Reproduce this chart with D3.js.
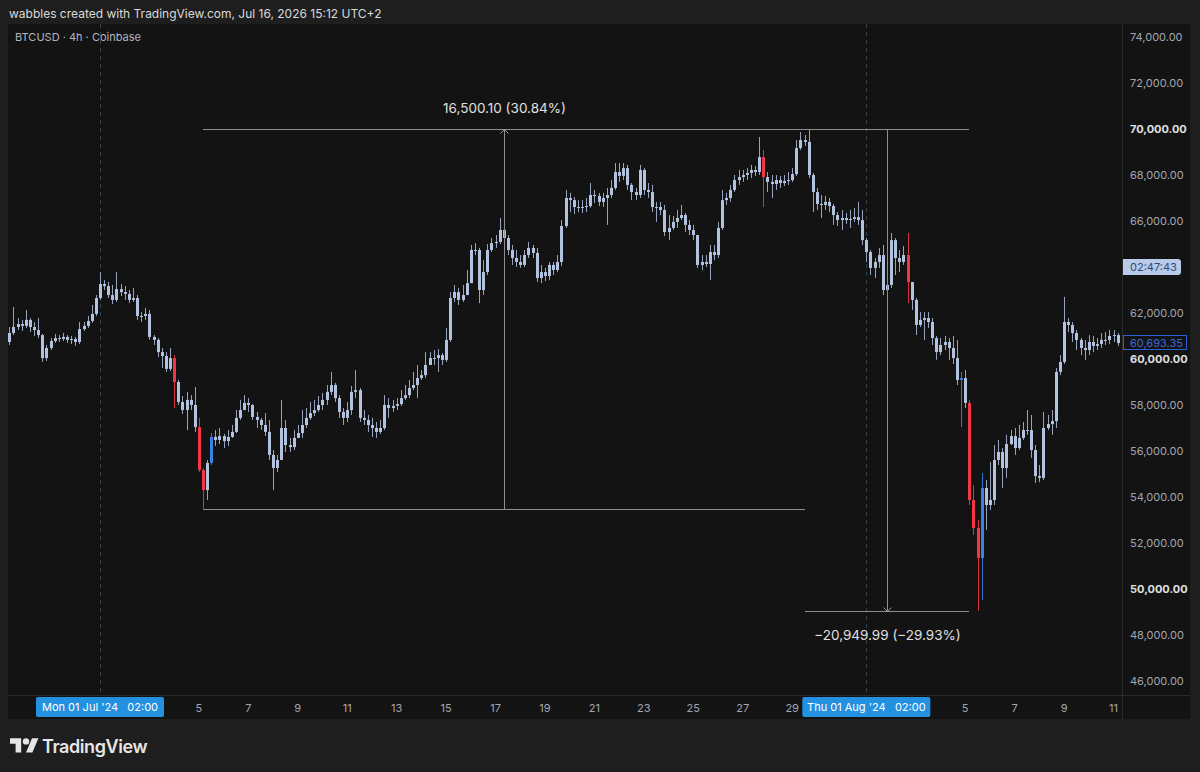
<!DOCTYPE html>
<html>
<head>
<meta charset="utf-8">
<script src="https://cdn.jsdelivr.net/npm/d3@7"></script>
<style>
html, body { margin: 0; padding: 0; background: #1e1e1e; }
svg { display: block; font-family: Inter, "Helvetica Neue", Arial, sans-serif; }
</style>
</head>
<body>
<svg id="chart" width="1200" height="772"></svg>
<script>
// BTCUSD 4h, Coinbase -- candles from Jun 27 10:00 (UTC+2 wall clock kept as UTC)
const firstCandle = "2024-06-27T10:00:00Z";
const stepHours = 4;
const firstOpen = 60740;

const closes = [
  61130, 61390, 61520, 61440, 61700, 61390, 61260, 61040, 60040, 60480,
  60780, 60910, 60870, 60960, 60830, 60870, 60740, 61300, 61440, 61650,
  61960, 62650, 63260, 63170, 62780, 62570, 63040, 62910, 62830, 62570,
  62650, 61870, 61870, 61960, 60960, 60830, 60300, 60130, 59570, 60040,
  59000, 58130, 57780, 58220, 58000, 57040, 55170, 54300, 55480, 56610,
  56480, 56650, 56430, 56610, 56830, 57440, 57780, 58090, 58000, 57480,
  57350, 57130, 56830, 55830, 55260, 55610, 57000, 56260, 56170, 56570,
  56780, 57130, 57440, 57650, 57780, 58000, 58220, 58570, 58870, 58300,
  57700, 57440, 57780, 58570, 58650, 57440, 57350, 57130, 57000, 56830,
  57000, 58000, 57870, 57960, 58040, 58300, 58430, 58740, 58870, 59170,
  59300, 59740, 60040, 60040, 60170, 59960, 60830, 62650, 62910, 62570,
  62780, 63300, 64740, 64740, 63000, 63780, 64740, 65040, 65090, 65610,
  65260, 64740, 64390, 64220, 64090, 64520, 64830, 64610, 63520, 63780,
  63610, 64090, 63870, 64220, 65780, 67000, 66910, 66610, 66570, 66610,
  66650, 67130, 67090, 66830, 67000, 67130, 67440, 68130, 67960, 68300,
  67570, 67260, 67130, 68220, 67350, 67260, 66610, 66610, 66480, 65520,
  65700, 65960, 66130, 66260, 65830, 65610, 65390, 64090, 64220, 64130,
  64650, 64520, 65700, 66910, 67000, 67350, 67780, 67910, 68000, 68090,
  68220, 68130, 68780, 67910, 67700, 67610, 67780, 67650, 67740, 67780,
  68040, 69170, 69520, 69440, 68000, 67260, 66740, 66700, 66830, 66650,
  66260, 66040, 66130, 66040, 66090, 66170, 66040, 65170, 64650, 63960,
  64220, 64520, 63000, 63220, 65170, 64390, 64220, 64520, 63350, 62570,
  61480, 61700, 61780, 61610, 60910, 60300, 60610, 60740, 60480, 60040,
  59090, 59170, 58090, 53870, 52650, 51350, 54390, 53650, 53870, 55610,
  55960, 55260, 56300, 56650, 56130, 56570, 56910, 56910, 56040, 54910,
  54830, 57000, 57170, 57300, 59440, 59870, 61610, 61480, 61130, 60830,
  60480, 60390, 60740, 60570, 60650, 60830, 60830, 61000, 61040, 60693.35
];

const highs = [
  61390, 62260, 61780, 61700, 62130, 61780, 61610, 61780, 61090, 60610,
  60910, 61090, 61040, 61130, 61040, 61000, 60960, 61610, 61610, 61870,
  62350, 62780, 63780, 63430, 63350, 63220, 63780, 63260, 63170, 63000,
  63090, 62780, 62040, 62220, 62130, 61040, 60910, 60480, 60300, 60480,
  60170, 59090, 58390, 58570, 58430, 58780, 57440, 55260, 55610, 56780,
  56910, 57000, 56740, 56910, 57130, 57780, 58220, 58430, 58300, 58040,
  57700, 57440, 57650, 57350, 56040, 55830, 58220, 57350, 56570, 56910,
  57130, 57780, 57870, 58130, 58220, 58390, 58520, 58870, 59440, 58960,
  58430, 57870, 58130, 58830, 59520, 58740, 57780, 57570, 57440, 57260,
  57350, 58430, 58300, 58220, 58300, 58650, 58870, 59090, 59440, 59740,
  59520, 60300, 60300, 60390, 60430, 60260, 61350, 62910, 63220, 63090,
  63220, 63870, 64960, 65040, 64830, 64300, 65000, 65260, 65390, 66130,
  65830, 65390, 64960, 64740, 64520, 64740, 65090, 64960, 64830, 64090,
  63960, 64220, 64220, 64520, 66040, 67350, 67220, 67040, 66910, 66910,
  67000, 67650, 67350, 67220, 67220, 67440, 67780, 68520, 68520, 68520,
  68440, 67650, 67440, 68440, 68300, 67650, 67570, 66830, 66830, 66700,
  66260, 66220, 66480, 66700, 66350, 66040, 65830, 65390, 64520, 64520,
  64960, 64960, 65960, 67350, 67220, 67570, 68000, 68220, 68220, 68300,
  68440, 68390, 69650, 69090, 68130, 68000, 68000, 67960, 68000, 68130,
  68300, 69520, 69870, 69740, 70000.09, 68090, 67440, 67130, 67090, 67000,
  66740, 66390, 66480, 66350, 66480, 66570, 66830, 66480, 65260, 64740,
  64390, 64830, 64960, 63430, 65480, 65260, 64740, 64910, 65480, 63350,
  62650, 62040, 62040, 62040, 61780, 61000, 60910, 61000, 60910, 61000,
  60830, 59440, 59520, 58220, 54520, 53000, 55040, 54740, 55520, 56260,
  56480, 56130, 56700, 56910, 57000, 57130, 57260, 57780, 57570, 56260,
  55390, 57700, 57570, 57780, 59610, 60170, 62700, 61780, 61610, 61260,
  60910, 60830, 61040, 61000, 60910, 61130, 61170, 61260, 61260, 61130
];

const lows = [
  60610, 61040, 61260, 61220, 61350, 61170, 61000, 60910, 59870, 59910,
  60390, 60700, 60740, 60780, 60700, 60650, 60570, 60650, 61220, 61350,
  61570, 61870, 62570, 63000, 62650, 62390, 62480, 62740, 62570, 62430,
  62480, 61700, 61610, 61700, 60830, 60610, 60090, 59610, 59440, 59480,
  57870, 58000, 57610, 56910, 57780, 56830, 55090, 53499.99, 53870, 55390,
  56220, 56300, 56130, 56220, 56570, 56780, 57350, 57780, 57700, 57350,
  57000, 56910, 56650, 55610, 54300, 55090, 55610, 55960, 55960, 56040,
  56610, 56570, 57000, 57350, 57520, 57700, 57780, 58000, 58430, 58130,
  57440, 57130, 57260, 57570, 58300, 57260, 57130, 56830, 56610, 56570,
  56740, 56910, 57440, 57700, 57780, 57960, 58220, 58300, 58650, 58300,
  59090, 59170, 59870, 59740, 59440, 59740, 59870, 60740, 62480, 62350,
  62480, 63000, 63350, 64520, 62430, 62780, 63650, 64650, 64830, 65000,
  64740, 64520, 64090, 64000, 63960, 64000, 64390, 64390, 63350, 63300,
  63390, 63430, 63650, 63780, 64040, 65700, 66390, 66300, 66390, 66350,
  66390, 66570, 66780, 66650, 66610, 65830, 67000, 67350, 67700, 67780,
  67350, 66910, 66910, 67000, 67130, 67000, 66390, 65960, 66260, 65350,
  65170, 65610, 65700, 66040, 65520, 65390, 65170, 63960, 63870, 64000,
  63430, 64300, 64390, 65610, 66700, 66830, 67260, 67570, 67700, 67780,
  67870, 67960, 68000, 66610, 67260, 67000, 67350, 67440, 67520, 67570,
  67700, 67960, 69090, 69260, 67870, 66390, 66480, 66130, 66480, 66390,
  65830, 65780, 65610, 65870, 65700, 65960, 65830, 64960, 64220, 63650,
  63520, 63960, 62780, 62220, 63090, 63650, 63780, 64090, 62430, 62130,
  61040, 61390, 60830, 61350, 60610, 59960, 60170, 60390, 59960, 59780,
  58870, 57040, 57870, 53650, 52350, 49050.10, 49520, 52570, 53430, 53650,
  55390, 54390, 54830, 56260, 55830, 56040, 56480, 56700, 55700, 54610,
  54650, 54740, 56910, 56700, 57000, 59300, 59780, 61170, 60740, 60390,
  60170, 59960, 60170, 60300, 60390, 60480, 60610, 60650, 60740, 60570
];

// bars painted by the colour indicator (index into the arrays above)
const redBars = [40, 46, 47, 183, 218, 233, 234, 235];
const blueBars = [49, 231, 236];

// 64,000 sits under the countdown label, so it is not printed
const priceTicks = [46000, 48000, 50000, 52000, 54000, 56000, 58000, 60000,
                    62000, 66000, 68000, 70000, 72000, 74000];
const boldTicks = [50000, 60000, 70000];
const julyDays = [5, 7, 9, 11, 13, 15, 17, 19, 21, 23, 25, 27, 29];
const augustDays = [5, 7, 9, 11];
const monthStarts = ["2024-07-01T02:00:00Z", "2024-08-01T02:00:00Z"];

// price range measurements: [from bar, to bar, start price, end price]
const measures = [
  { from: 47, to: 193, start: 53499.99, end: 70000.09 },
  { from: 193, to: 233, start: 70000.09, end: 49050.10 }
];
const countdown = "02:47:43";
const countdownLevel = 64000;

// ---------------------------------------------------------------
const W = 1200, H = 772;
const pane = { left: 8, top: 24, right: 1190, bottom: 719 };
const plot = { left: 8, right: 1122, top: 24, bottom: 695 };

const t0 = new Date(firstCandle).getTime();
const candles = closes.map((c, i) => {
  const o = i === 0 ? firstOpen : closes[i - 1];
  return {
    t: new Date(t0 + i * stepHours * 3600e3),
    o: o, c: c,
    h: Math.max(highs[i], o, c),
    l: Math.min(lows[i], o, c),
    col: redBars.includes(i) ? "red" : blueBars.includes(i) ? "blue" : "base"
  };
});

const x = d3.scaleTime()
  .domain([new Date("2024-06-27T08:40:00Z"), new Date("2024-08-11T10:15:00Z")])
  .range([plot.left, plot.right]);
const y = d3.scaleLinear().domain([46000, 74000]).range([681, 37]);

const colors = {
  base: { body: "#b3c2df", wick: "#97a3bd" },
  red: { body: "#f23645", wick: "#d5333f" },
  blue: { body: "#3b82e6", wick: "#3576d2" }
};

const svg = d3.select("#chart");

svg.append("rect").attr("width", W).attr("height", H).attr("fill", "#1e1e1e");
svg.append("rect")
  .attr("x", pane.left).attr("y", pane.top)
  .attr("width", pane.right - pane.left).attr("height", pane.bottom - pane.top)
  .attr("fill", "#131313");

// header
svg.append("text").attr("x", 9).attr("y", 18)
  .attr("fill", "#dadada").attr("font-size", 12)
  .text("wabbles created with TradingView.com, Jul 16, 2026 15:12 UTC+2");

// month separators
svg.append("g").selectAll("line")
  .data(monthStarts)
  .join("line")
    .attr("x1", d => Math.round(x(new Date(d))) + 0.5)
    .attr("x2", d => Math.round(x(new Date(d))) + 0.5)
    .attr("y1", plot.top).attr("y2", plot.bottom)
    .attr("stroke", "#2b4650").attr("stroke-dasharray", "4,4");

svg.append("text").attr("x", 15).attr("y", 41)
  .attr("fill", "#b2b5be").attr("font-size", 11)
  .text("BTCUSD · 4h · Coinbase");

// candles
const cg = svg.append("g");
cg.selectAll("line")
  .data(candles)
  .join("line")
    .attr("x1", d => Math.round(x(d.t)) + 0.5)
    .attr("x2", d => Math.round(x(d.t)) + 0.5)
    .attr("y1", d => y(d.h))
    .attr("y2", d => y(d.l))
    .attr("stroke", d => colors[d.col].wick);
cg.selectAll("rect")
  .data(candles)
  .join("rect")
    .attr("x", d => Math.round(x(d.t)) - 1)
    .attr("width", 3)
    .attr("y", d => y(Math.max(d.o, d.c)))
    .attr("height", d => Math.max(1, Math.abs(y(d.o) - y(d.c))))
    .attr("fill", d => colors[d.col].body);

// measurement tools
const fmt = d3.format(",.2f");
const mg = svg.append("g");
measures.forEach(m => {
  const x1 = Math.round(x(candles[m.from].t)), x2 = Math.round(x(candles[m.to].t));
  const xm = Math.round((x1 + x2) / 2) + 0.5;
  const ys = Math.round(y(m.start)) + 0.5, ye = Math.round(y(m.end)) + 0.5;
  [ys, ye].forEach(yy => mg.append("line")
    .attr("x1", x1).attr("x2", x2).attr("y1", yy).attr("y2", yy)
    .attr("stroke", "#8f8f8f"));
  mg.append("line").attr("x1", xm).attr("x2", xm).attr("y1", ys).attr("y2", ye)
    .attr("stroke", "#8f8f8f");
  const dir = ye < ys ? 1 : -1;
  mg.append("path")
    .attr("d", `M${xm - 4},${ye + dir * 4}L${xm},${ye}L${xm + 4},${ye + dir * 4}`)
    .attr("fill", "none").attr("stroke", "#9a9a9a");
  const diff = m.end - m.start;
  const pct = diff / m.start * 100;
  const label = `${fmt(diff)} (${d3.format(".2f")(pct)}%)`;
  const ly = dir > 0 ? Math.min(ys, ye) - 22 : Math.max(ys, ye) + 23;
  mg.append("text")
    .attr("x", xm).attr("y", ly)
    .attr("text-anchor", "middle").attr("dominant-baseline", "central")
    .attr("fill", "#e0e0e0").attr("font-size", 13.5)
    .text(label);
});

// price axis
svg.append("line")
  .attr("x1", plot.right + 0.5).attr("x2", plot.right + 0.5)
  .attr("y1", pane.top).attr("y2", pane.bottom)
  .attr("stroke", "#2a2a2a");
svg.append("g").selectAll("text")
  .data(priceTicks)
  .join("text")
    .attr("x", 1130)
    .attr("y", d => y(d))
    .attr("dominant-baseline", "central")
    .attr("font-size", 11)
    .attr("font-weight", d => boldTicks.includes(d) ? 700 : 400)
    .attr("fill", d => boldTicks.includes(d) ? "#e0e0e0" : "#a3a6af")
    .text(d => fmt(d));

// countdown and last price labels
const lastBar = candles[candles.length - 1];
const cy = y(countdownLevel);
svg.append("path")
  .attr("d", `M${plot.right + 1},${cy - 8}H1178Q1181,${cy - 8} 1181,${cy - 5}V${cy + 5}Q1181,${cy + 8} 1178,${cy + 8}H${plot.right + 1}Z`)
  .attr("fill", "#b9cbe8");
svg.append("text").attr("x", 1130).attr("y", cy)
  .attr("dominant-baseline", "central").attr("font-size", 11)
  .attr("fill", "#2b4a80").text(countdown);
const ly = Math.round(y(lastBar.c));
svg.append("rect")
  .attr("x", plot.right + 1.5).attr("y", ly - 7.5)
  .attr("width", 63).attr("height", 14)
  .attr("fill", "#131313").attr("stroke", "#2f5fd8");
svg.append("text").attr("x", 1130).attr("y", ly)
  .attr("dominant-baseline", "central").attr("font-size", 11)
  .attr("fill", "#3a6ad8").text(fmt(lastBar.c));

// time axis
svg.append("line")
  .attr("x1", pane.left).attr("x2", pane.right)
  .attr("y1", plot.bottom + 0.5).attr("y2", plot.bottom + 0.5)
  .attr("stroke", "#2a2a2a");
const dayTicks = julyDays.map(d => ({ t: new Date(Date.UTC(2024, 6, d, 2)), label: d }))
  .concat(augustDays.map(d => ({ t: new Date(Date.UTC(2024, 7, d, 2)), label: d })));
svg.append("g").selectAll("text")
  .data(dayTicks)
  .join("text")
    .attr("x", d => x(d.t))
    .attr("y", 708)
    .attr("text-anchor", "middle").attr("dominant-baseline", "central")
    .attr("font-size", 11).attr("fill", "#a3a6af")
    .text(d => d.label);

const monthFmt = d3.utcFormat("%a %d %b '%y");
const mlab = svg.append("g").selectAll("g")
  .data(monthStarts)
  .join("g")
    .attr("transform", d => `translate(${x(new Date(d))},707)`);
mlab.append("rect")
  .attr("x", -64).attr("y", -10).attr("width", 128).attr("height", 20).attr("rx", 2)
  .attr("fill", "#2490e0");
mlab.append("text")
  .attr("text-anchor", "middle").attr("dominant-baseline", "central")
  .attr("font-size", 11).attr("fill", "#ffffff")
  .attr("xml:space", "preserve")
  .text(d => monthFmt(new Date(d)) + "   " + d3.utcFormat("%H:%M")(new Date(d)));

// logo
const logo = svg.append("g").attr("transform", "translate(10,735) scale(0.8)").attr("fill", "#e6e6e6");
logo.append("path").attr("d", "M14 22H7V11H0V4h14v18zM28 22h-8l7.5-18h8L28 22z");
logo.append("circle").attr("cx", 20).attr("cy", 8).attr("r", 4);
svg.append("text").attr("x", 42).attr("y", 753)
  .attr("fill", "#e6e6e6").attr("font-size", 18).attr("font-weight", 600)
  .attr("letter-spacing", -0.4)
  .text("TradingView");
</script>
</body>
</html>
